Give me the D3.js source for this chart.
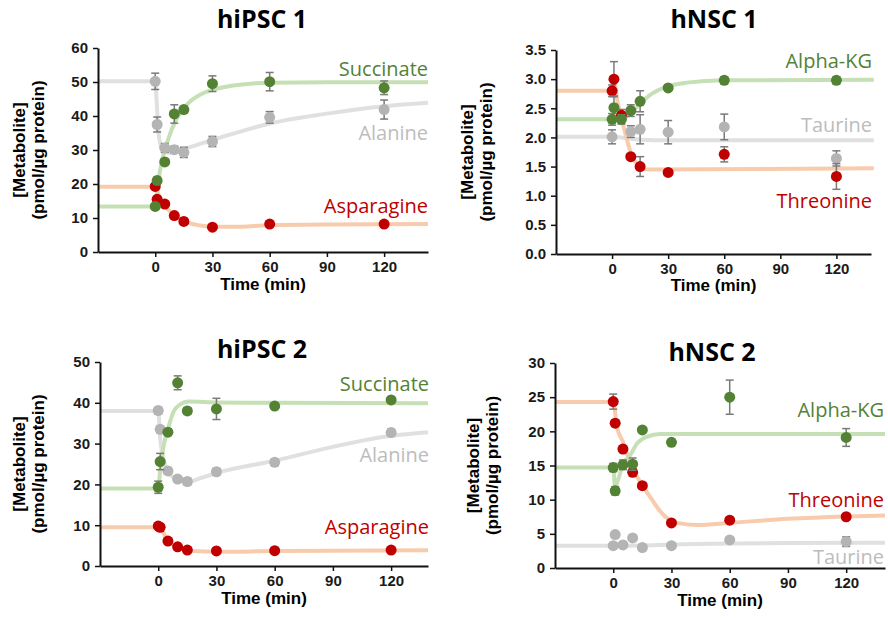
<!DOCTYPE html>
<html>
<head>
<meta charset="utf-8">
<script src="https://cdn.jsdelivr.net/npm/d3@7"></script>
<style>
  body { margin: 0; background: #fff; }
  .tick text { font-family: "Liberation Sans", Arial, sans-serif; font-weight: bold; font-size: 15px; fill: #1a1a1a; }
</style>
</head>
<body>
<div id="chart"></div>
<script>
'use strict';
// sampling times (min)
const times = [0, 1, 5, 10, 15, 30, 60, 120];

// hiPSC 1
const ips1Succinate = [13.4, 21.0, 26.5, 40.6, 41.9, 49.5, 50.1, 48.3];
const ips1SuccinateErr = [0.8, 1.0, 0.8, 2.7, 1.0, 2.3, 2.7, 2.0];
const ips1Alanine = [50.2, 37.5, 30.6, 30.1, 29.3, 32.5, 39.6, 41.9];
const ips1AlanineErr = [2.4, 2.2, 1.3, 1.0, 1.5, 1.5, 1.7, 2.8];
const ips1Asparagine = [19.3, 15.5, 14.1, 10.7, 9.0, 7.3, 8.2, 8.2];
const ips1AsparagineErr = [0.5, 0.5, 0.5, 0.5, 0.5, 0.5, 0.5, 0.5];
const ips1SuccinateFitT = [-30, 0, 1, 2.6, 6.1, 11.4, 16.7, 23.7, 30.7, 41, 60, 90, 143];
const ips1SuccinateFitV = [13.4, 13.4, 18, 24.2, 32, 39.4, 43.4, 46.3, 47.8, 49, 49.8, 49.9, 49.9];
const ips1AlanineFitT = [-30, 0, 0.9, 1.6, 2.7, 4.4, 8, 15, 30, 45, 60, 90, 120, 143];
const ips1AlanineFitV = [50.2, 50.2, 42.9, 36, 31.6, 29.6, 29.2, 30.3, 33, 35.5, 37.8, 40.7, 42.9, 43.9];
const ips1AsparagineFitT = [-30, 0, 2.6, 6.1, 11.4, 16.7, 23.7, 30.7, 41, 60, 90, 143];
const ips1AsparagineFitV = [19.2, 19.2, 15.6, 12.9, 10.4, 8.7, 7.8, 7.4, 7.4, 7.9, 8.1, 8.2];

// hNSC 1
const nsc1AlphaKG = [2.31, 2.51, 2.31, 2.46, 2.62, 2.85, 2.98, 2.98];
const nsc1AlphaKGErr = [0.1, 0.2, 0.08, 0.1, 0.18, 0.04, 0.06, 0.06];
const nsc1Taurine = [2.01, null, null, 2.10, 2.14, 2.09, 2.18, 1.64];
const nsc1TaurineErr = [0.12, 0, 0, 0.1, 0.25, 0.2, 0.22, 0.13];
const nsc1Threonine = [2.80, 3.00, 2.38, 1.67, 1.50, 1.40, 1.71, 1.33];
const nsc1ThreonineErr = [0.1, 0.3, 0.1, 0.05, 0.17, 0.04, 0.13, 0.22];
const nsc1AlphaKGFitT = [-30, 0, 5, 8, 10, 15, 20, 30, 40, 60, 140];
const nsc1AlphaKGFitV = [2.31, 2.31, 2.31, 2.36, 2.42, 2.58, 2.72, 2.88, 2.94, 2.98, 2.99];
const nsc1TaurineFitT = [-30, 0, 5, 15, 30, 140];
const nsc1TaurineFitV = [2.01, 2.01, 2.0, 1.96, 1.95, 1.95];
const nsc1ThreonineFitT = [-30, 0, 1, 3, 6.6, 10.7, 13.7, 16.4, 20, 140];
const nsc1ThreonineFitV = [2.80, 2.80, 2.98, 2.6, 2.13, 1.67, 1.53, 1.46, 1.45, 1.47];

// hiPSC 2
const ips2Succinate = [19.3, 25.6, 32.8, 44.9, 38.0, 38.5, 39.2, 40.7];
const ips2SuccinateErr = [1.5, 2.0, 0.8, 1.7, 0.8, 2.6, 0.5, 0.5];
const ips2Alanine = [38.1, 33.5, 23.3, 21.3, 20.7, 23.1, 25.4, 32.7];
const ips2AlanineErr = [0.8, 0.8, 0.8, 0.6, 0.8, 0.8, 0.8, 0.8];
const ips2Asparagine = [9.8, 9.5, 6.1, 4.7, 3.9, 3.7, 3.75, 3.9];
const ips2AsparagineErr = [0.4, 0.4, 0.4, 0.4, 0.4, 0.4, 0.4, 0.4];
const ips2SuccinateFitT = [-30, 0, 1, 2.7, 5.3, 7.9, 11.3, 15.6, 30, 60, 139];
const ips2SuccinateFitV = [19.0, 19.0, 23.5, 29.2, 34.1, 37.8, 39.6, 40.3, 40.1, 40.0, 39.9];
const ips2AlanineFitT = [-30, 0, 1.1, 3.6, 6.2, 11.3, 15.6, 21.6, 30, 60, 90, 120, 139];
const ips2AlanineFitV = [38.0, 38.0, 30.9, 24.8, 22.3, 21.1, 20.6, 21.5, 22.8, 25.8, 29.2, 31.9, 32.8];
const ips2AsparagineFitT = [-30, 0, 1, 5, 10, 15, 20, 30, 60, 90, 139];
const ips2AsparagineFitV = [9.5, 9.5, 9.3, 6.2, 4.6, 3.9, 3.6, 3.5, 3.65, 3.75, 3.85];

// hNSC 2
const nsc2AlphaKG = [14.7, 11.3, 15.1, 15.2, 20.2, 18.4, 25.0, 19.1];
const nsc2AlphaKGErr = [0.6, 0.6, 0.7, 0.9, 0.3, 0.3, 2.5, 1.3];
const nsc2Threonine = [24.35, 21.2, 17.4, 14.0, 12.05, 6.6, 7.0, 7.5];
const nsc2ThreonineErr = [1.1, 0.5, 0.5, 0.5, 0.4, 0.3, 0.3, 0.3];
const nsc2Taurine = [3.27, 4.9, 3.37, 4.4, 3.0, 3.27, 4.1, 3.85];
const nsc2TaurineErr = [0.3, 0.3, 0.3, 0.3, 0.3, 0.3, 0.3, 0.7];
const nsc2AlphaKGFitT = [-30, 0, 1, 2, 3.6, 5.3, 8.7, 12.2, 17.3, 24.2, 35, 60, 140];
const nsc2AlphaKGFitV = [14.7, 14.7, 11.6, 12.5, 13.9, 15.3, 16.5, 18.2, 19.2, 19.6, 19.6, 19.6, 19.6];
const nsc2ThreonineFitT = [-30, 0, 1.9, 5.3, 8.7, 13.9, 19, 25.9, 32.8, 43, 60, 90, 120, 140];
const nsc2ThreonineFitV = [24.3, 24.3, 20.7, 18.3, 15.3, 12.6, 10.4, 7.75, 6.6, 6.3, 6.6, 7.2, 7.55, 7.7];
const nsc2TaurineFitT = [-30, 0, 15, 30, 60, 90, 140];
const nsc2TaurineFitV = [3.25, 3.25, 3.3, 3.45, 3.6, 3.65, 3.7];

const xTicks = [0, 30, 60, 90, 120];

const GREEN = "#548235", RED = "#c00000", GRAY_DOT = "#b4b4b4", GRAY_TXT = "#bdbdbd";
const FIT_GREEN = "#c5e0b4", FIT_RED = "#f8cbad", FIT_GRAY = "#e0e0e0";

function series(name, dot, txt, fit, vals, errs, fitT, fitV, lx, ly) {
  return { name: name, dot: dot, txt: txt, fit: fit, vals: vals, errs: errs, fitT: fitT, fitV: fitV, lx: lx, ly: ly };
}

const panels = [
  {
    title: "hiPSC 1", tx: 262, ty: 28,
    left: 98, right: 428, xMax: 143, top: 48, bottom: 252, yMax: 60, yTicks: d3.range(0, 61, 10), fmt: d3.format("d"),
    ylab1: 25, ylab2: 44, timeY: 290,
    series: [
      series("Alanine", GRAY_DOT, GRAY_TXT, FIT_GRAY, ips1Alanine, ips1AlanineErr, ips1AlanineFitT, ips1AlanineFitV, 428, 140),
      series("Asparagine", RED, RED, FIT_RED, ips1Asparagine, ips1AsparagineErr, ips1AsparagineFitT, ips1AsparagineFitV, 428, 213),
      series("Succinate", GREEN, GREEN, FIT_GREEN, ips1Succinate, ips1SuccinateErr, ips1SuccinateFitT, ips1SuccinateFitV, 428, 76)
    ]
  },
  {
    title: "hNSC 1", tx: 714, ty: 28,
    left: 556, right: 871, xMax: 138.5, top: 50, bottom: 254, yMax: 3.5, yTicks: d3.range(0, 3.51, 0.5), fmt: d3.format(".1f"),
    ylab1: 473, ylab2: 492, timeY: 291,
    series: [
      series("Taurine", GRAY_DOT, GRAY_TXT, FIT_GRAY, nsc1Taurine, nsc1TaurineErr, nsc1TaurineFitT, nsc1TaurineFitV, 872, 132),
      series("Threonine", RED, RED, FIT_RED, nsc1Threonine, nsc1ThreonineErr, nsc1ThreonineFitT, nsc1ThreonineFitV, 872, 208),
      series("Alpha-KG", GREEN, GREEN, FIT_GREEN, nsc1AlphaKG, nsc1AlphaKGErr, nsc1AlphaKGFitT, nsc1AlphaKGFitV, 872, 68)
    ]
  },
  {
    title: "hiPSC 2", tx: 262, ty: 358,
    left: 100, right: 428, xMax: 139, top: 362, bottom: 566, yMax: 50, yTicks: d3.range(0, 51, 10), fmt: d3.format("d"),
    ylab1: 25, ylab2: 44, timeY: 604,
    series: [
      series("Alanine", GRAY_DOT, GRAY_TXT, FIT_GRAY, ips2Alanine, ips2AlanineErr, ips2AlanineFitT, ips2AlanineFitV, 429, 462),
      series("Asparagine", RED, RED, FIT_RED, ips2Asparagine, ips2AsparagineErr, ips2AsparagineFitT, ips2AsparagineFitV, 429, 534),
      series("Succinate", GREEN, GREEN, FIT_GREEN, ips2Succinate, ips2SuccinateErr, ips2SuccinateFitT, ips2SuccinateFitV, 429, 391)
    ]
  },
  {
    title: "hNSC 2", tx: 712, ty: 361,
    left: 555, right: 885, xMax: 140, top: 363, bottom: 568, yMax: 30, yTicks: d3.range(0, 31, 5), fmt: d3.format("d"),
    ylab1: 479, ylab2: 498, timeY: 606,
    series: [
      series("Taurine", GRAY_DOT, GRAY_TXT, FIT_GRAY, nsc2Taurine, nsc2TaurineErr, nsc2TaurineFitT, nsc2TaurineFitV, 884, 564),
      series("Threonine", RED, RED, FIT_RED, nsc2Threonine, nsc2ThreonineErr, nsc2ThreonineFitT, nsc2ThreonineFitV, 884, 507),
      series("Alpha-KG", GREEN, GREEN, FIT_GREEN, nsc2AlphaKG, nsc2AlphaKGErr, nsc2AlphaKGFitT, nsc2AlphaKGFitV, 884, 417)
    ]
  }
];

let svg = d3.select("#chart").append("svg")
  .attr("width", 888)
  .attr("height", 622);

function drawPanel(p) {
  let g = svg.append("g");
  let x = d3.scaleLinear().domain([-30, p.xMax]).range([p.left, p.right]);
  let y = d3.scaleLinear().domain([0, p.yMax]).range([p.bottom, p.top]);

  let line = d3.line()
    .x(function (d) { return x(d[0]); })
    .y(function (d) { return y(d[1]); })
    .curve(d3.curveMonotoneX);

  // fitted curves first
  p.series.forEach(function (s) {
    g.append("path")
      .attr("d", line(d3.zip(s.fitT, s.fitV)))
      .attr("fill", "none")
      .attr("stroke", s.fit)
      .attr("stroke-width", 4);
  });

  // error bars + dots
  p.series.forEach(function (s) {
    let pts = times.map(function (t, i) { return { t: t, v: s.vals[i], e: s.errs[i] }; })
      .filter(function (d) { return d.v !== null; });
    let eg = g.append("g").attr("stroke", "#7a7a7a").attr("stroke-width", 1.5);
    pts.forEach(function (d) {
      let cx = x(d.t), y1 = y(d.v + d.e), y2 = y(d.v - d.e);
      eg.append("line").attr("x1", cx).attr("x2", cx).attr("y1", y1).attr("y2", y2);
      eg.append("line").attr("x1", cx - 4).attr("x2", cx + 4).attr("y1", y1).attr("y2", y1);
      eg.append("line").attr("x1", cx - 4).attr("x2", cx + 4).attr("y1", y2).attr("y2", y2);
    });
    g.append("g").selectAll("circle")
      .data(pts)
      .enter()
      .append("circle")
      .attr("cx", function (d) { return x(d.t); })
      .attr("cy", function (d) { return y(d.v); })
      .attr("r", 5.5)
      .attr("fill", s.dot);
    g.append("text")
      .attr("x", s.lx)
      .attr("y", s.ly)
      .attr("text-anchor", "end")
      .attr("font-family", "'Open Sans', sans-serif")
      .attr("font-size", "20px")
      .attr("fill", s.txt)
      .text(s.name);
  });

  // axes
  let xAxis = d3.axisBottom(x).tickValues(xTicks).tickSize(5).tickSizeOuter(0).tickPadding(4);
  let yAxis = d3.axisLeft(y).tickValues(p.yTicks).tickFormat(p.fmt).tickSize(5).tickSizeOuter(0).tickPadding(5);
  let gx = g.append("g")
    .attr("transform", "translate(0," + p.bottom + ")")
    .call(xAxis);
  let gy = g.append("g")
    .attr("transform", "translate(" + p.left + ",0)")
    .call(yAxis);
  [gx, gy].forEach(function (a) {
    a.select(".domain").attr("stroke", "#111").attr("stroke-width", 2);
    a.selectAll(".tick line").attr("stroke", "#111").attr("stroke-width", 1.5);
  });

  // titles
  g.append("text")
    .attr("x", p.tx)
    .attr("y", p.ty)
    .attr("text-anchor", "middle")
    .attr("font-family", "'Open Sans', sans-serif")
    .attr("font-weight", "bold")
    .attr("font-size", "25px")
    .text(p.title);

  g.append("text")
    .attr("x", (p.left + p.right) / 2)
    .attr("y", p.timeY)
    .attr("text-anchor", "middle")
    .attr("font-family", "'Liberation Sans', Arial, sans-serif")
    .attr("font-weight", "bold")
    .attr("font-size", "17px")
    .text("Time (min)");

  let midY = (p.top + p.bottom) / 2;
  [["[Metabolite]", p.ylab1], ["(pmol/\u00b5g protein)", p.ylab2]].forEach(function (l) {
    g.append("text")
      .attr("transform", "translate(" + l[1] + "," + midY + ") rotate(-90)")
      .attr("text-anchor", "middle")
      .attr("font-family", "'Liberation Sans', Arial, sans-serif")
      .attr("font-weight", "bold")
      .attr("font-size", "17px")
      .text(l[0]);
  });
}

panels.forEach(drawPanel);
</script>
</body>
</html>
